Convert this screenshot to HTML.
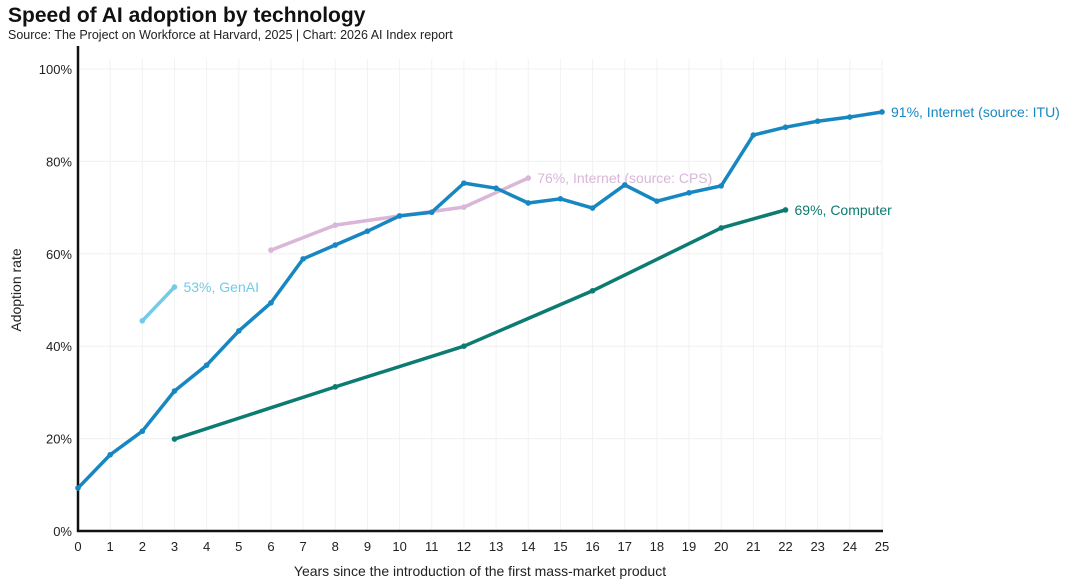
<!DOCTYPE html>
<html><head><meta charset="utf-8"><style>
body{margin:0;background:#fff;width:1080px;height:581px;overflow:hidden;font-family:"Liberation Sans",sans-serif}
</style></head><body>
<svg width="1080" height="581" xmlns="http://www.w3.org/2000/svg">
<text x="8" y="22" font-size="21" font-weight="bold" fill="#111">Speed of AI adoption by technology</text>
<text x="8" y="39" font-size="12.5" fill="#222">Source: The Project on Workforce at Harvard, 2025 | Chart: 2026 AI Index report</text>
<g id="grid"></g><g id="axes"></g><g id="series"></g>
<text transform="translate(21,290) rotate(-90)" text-anchor="middle" font-size="14" fill="#222">Adoption rate</text>
<text x="480" y="576" text-anchor="middle" font-size="14" fill="#222">Years since the introduction of the first mass-market product</text>
</svg>
<script>
const xTicks=[0,1,2,3,4,5,6,7,8,9,10,11,12,13,14,15,16,17,18,19,20,21,22,23,24,25];
const yTicks=[0,20,40,60,80,100];
const ituX=[0,1,2,3,4,5,6,7,8,9,10,11,12,13,14,15,16,17,18,19,20,21,22,23,24,25];
const ituY=[9.3,16.5,21.6,30.3,35.9,43.3,49.4,58.9,61.9,64.9,68.2,69.0,75.3,74.2,71.0,71.9,69.9,74.9,71.4,73.2,74.7,85.7,87.4,88.7,89.6,90.7];
const cpsX=[6,8,10,12,14];
const cpsY=[60.8,66.2,68.2,70.1,76.4];
const compX=[3,8,12,16,20,22];
const compY=[19.9,31.2,40.0,52.0,65.6,69.5];
const genX=[2,3];
const genY=[45.5,52.8];
const NS="http://www.w3.org/2000/svg";
const X=v=>78+v*(804/25), Y=v=>531-v*4.62;
function mk(t,a,p){const e=document.createElementNS(NS,t);for(const k in a)e.setAttribute(k,a[k]);p.appendChild(e);return e;}
const grid=document.getElementById('grid'),axes=document.getElementById('axes'),ser=document.getElementById('series');
xTicks.forEach(t=>{
 const l=mk('line',{x1:X(t),x2:X(t),y1:Y(100)-10,y2:531,stroke:'#f2f2f2'},grid);
 
 
 const tx=mk('text',{x:X(t),y:551,'text-anchor':'middle','font-size':13,fill:'#222'},axes);tx.textContent=t;
 
 
});
yTicks.forEach(t=>{
 const l=mk('line',{x1:78,x2:882,y1:Y(t),y2:Y(t),stroke:'#f0f0f0'},grid);
 
 
 const tx=mk('text',{x:72,y:Y(t)+5,'text-anchor':'end','font-size':13,fill:'#222'},axes);tx.textContent=t+'%';
 
 
});
const ya=mk('line',{x1:78,x2:78,y1:46,y2:532,stroke:'#111','stroke-width':2.5},axes);


const xa=mk('line',{x1:77,x2:883,y1:531,y2:531,stroke:'#111','stroke-width':2.5},axes);


function series(xs,ys,color,name,label,w){
 const g=mk('g',{},ser);
 
 
 const pts=xs.map((x,i)=>X(x)+','+Y(ys[i])).join(' ');
 mk('polyline',{points:pts,fill:'none',stroke:color,'stroke-width':w,'stroke-linejoin':'round'},g);
 xs.forEach((x,i)=>{const c=mk('circle',{cx:X(x),cy:Y(ys[i]),r:2.8,fill:color},g);
  
  });
 const n=xs.length-1;
 const t=mk('text',{x:X(xs[n])+9,y:Y(ys[n])+5,'font-size':14,fill:color},g);t.textContent=label;
 
 
}
series(cpsX,cpsY,'#dab6d9','internet-cps-series','76%, Internet (source: CPS)',3.5);
series(genX,genY,'#72cbe8','genai-series','53%, GenAI',3.5);
series(compX,compY,'#0c7b72','computer-series','69%, Computer',3.5);
series(ituX,ituY,'#1787c2','internet-itu-series','91%, Internet (source: ITU)',3.5);
</script>
</body></html>
